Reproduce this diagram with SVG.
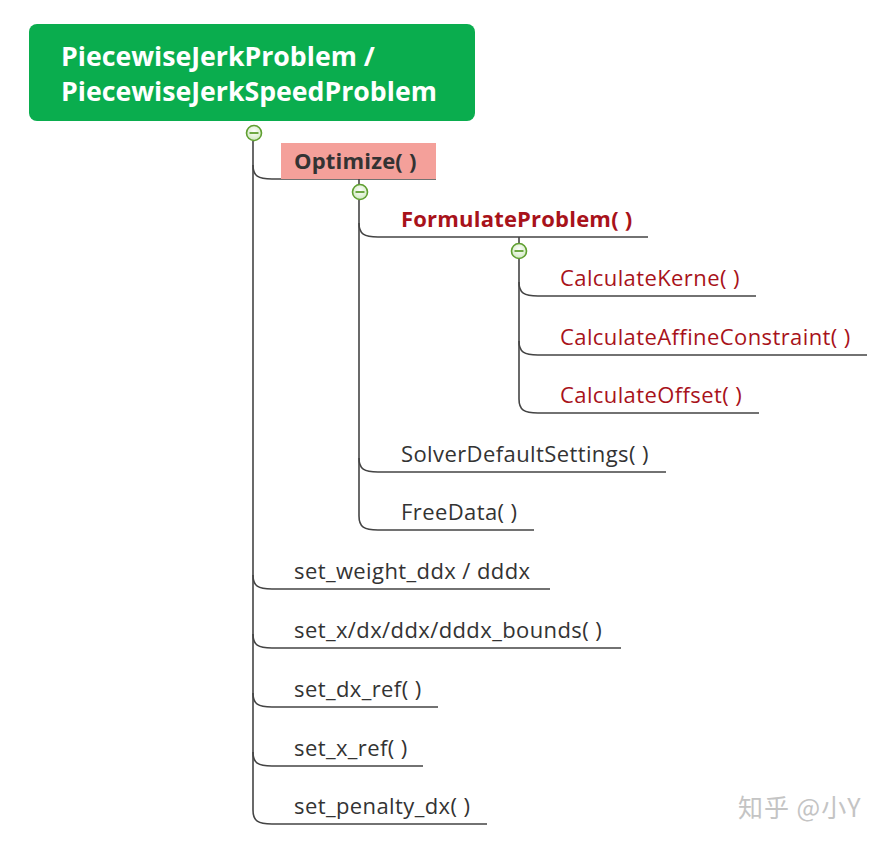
<svg xmlns="http://www.w3.org/2000/svg" width="895" height="846" viewBox="0 0 895 846">
<defs>
<style>
.ln{fill:none;stroke:#444;stroke-width:1.6}
.t{font-family:"Open Sans","Noto Sans",sans-serif;font-size:22px;letter-spacing:0.4px;fill:#333}
.b{font-weight:bold;letter-spacing:0.2px}
.red{fill:#a8121a}
.cb circle{fill:url(#g);stroke:#5f9f30;stroke-width:1.6}
.cb line{stroke:#5f9f30;stroke-width:1.8}
</style>
<radialGradient id="g" cx="0.5" cy="0.4" r="0.6">
<stop offset="0" stop-color="#ffffff"/>
<stop offset="1" stop-color="#cfe8bf"/>
</radialGradient>
</defs>
<rect width="895" height="846" fill="#fff"/>
<g id="connectors">
<path class="ln" d="M253,141 V810"/>
<path class="ln" d="M253,165 C253,176 258,179 272,179 H436"/>
<path class="ln" d="M253,575 C253,586 258,589 272,589 H550"/>
<path class="ln" d="M253,634 C253,645 258,648 272,648 H621"/>
<path class="ln" d="M253,693 C253,704 258,707 272,707 H438"/>
<path class="ln" d="M253,752 C253,763 258,766 272,766 H423"/>
<path class="ln" d="M253,810 C253,821 258,824 272,824 H487"/>
<path class="ln" d="M359,179 V184"/>
<path class="ln" d="M359,200 V516"/>
<path class="ln" d="M359,223 C359,234 364,237 378,237 H648"/>
<path class="ln" d="M359,458 C359,469 364,472 378,472 H666"/>
<path class="ln" d="M359,516 C359,527 364,530 378,530 H534"/>
<path class="ln" d="M519,237 V243"/>
<path class="ln" d="M519,259 V399"/>
<path class="ln" d="M519,282 C519,293 524,296 538,296 H756"/>
<path class="ln" d="M519,341 C519,352 524,355 538,355 H867"/>
<path class="ln" d="M519,399 C519,410 524,413 538,413 H759"/>
</g>
<g id="root">
<rect x="29" y="24" width="446" height="97" rx="8" fill="#0aad4e"/>
<text x="61" y="66" font-family="'Open Sans','Noto Sans',sans-serif" font-size="26.7" font-weight="bold" fill="#fff">PiecewiseJerkProblem /</text>
<text x="61" y="101" font-family="'Open Sans','Noto Sans',sans-serif" font-size="26.7" font-weight="bold" fill="#fff">PiecewiseJerkSpeedProblem</text>
</g>
<g id="toggle-root" class="cb"><circle cx="254" cy="133" r="7.5"/><line x1="249.5" y1="133" x2="258.5" y2="133"/></g>
<g id="optimize">
<rect x="281" y="143" width="155" height="36" fill="#f4a09a"/>
<text class="t b" x="294" y="169" fill="#3a2a2a">Optimize( )</text>
</g>
<g id="toggle-optimize" class="cb"><circle cx="360" cy="192" r="7.5"/><line x1="355.5" y1="192" x2="364.5" y2="192"/></g>
<g id="formulate"><text class="t b red" x="401" y="227">FormulateProblem( )</text></g>
<g id="toggle-formulate" class="cb"><circle cx="519" cy="251" r="7.5"/><line x1="514.5" y1="251" x2="523.5" y2="251"/></g>
<g id="kernel"><text class="t red" x="560" y="286">CalculateKerne( )</text></g>
<g id="affine"><text class="t red" x="560" y="345">CalculateAffineConstraint( )</text></g>
<g id="offset"><text class="t red" x="560" y="403">CalculateOffset( )</text></g>
<g id="solver"><text class="t" x="401" y="462">SolverDefaultSettings( )</text></g>
<g id="freedata"><text class="t" x="401" y="520">FreeData( )</text></g>
<g id="weight"><text class="t" x="294" y="579">set_weight_ddx / dddx</text></g>
<g id="bounds"><text class="t" x="294" y="638">set_x/dx/ddx/dddx_bounds( )</text></g>
<g id="dxref"><text class="t" x="294" y="697">set_dx_ref( )</text></g>
<g id="xref"><text class="t" x="294" y="756">set_x_ref( )</text></g>
<g id="penalty"><text class="t" x="294" y="814">set_penalty_dx( )</text></g>
<text x="738" y="817" font-family="'Noto Sans CJK SC',sans-serif" font-size="25" letter-spacing="1" fill="#c4c4c4">知乎 @小Y</text>
</svg>
